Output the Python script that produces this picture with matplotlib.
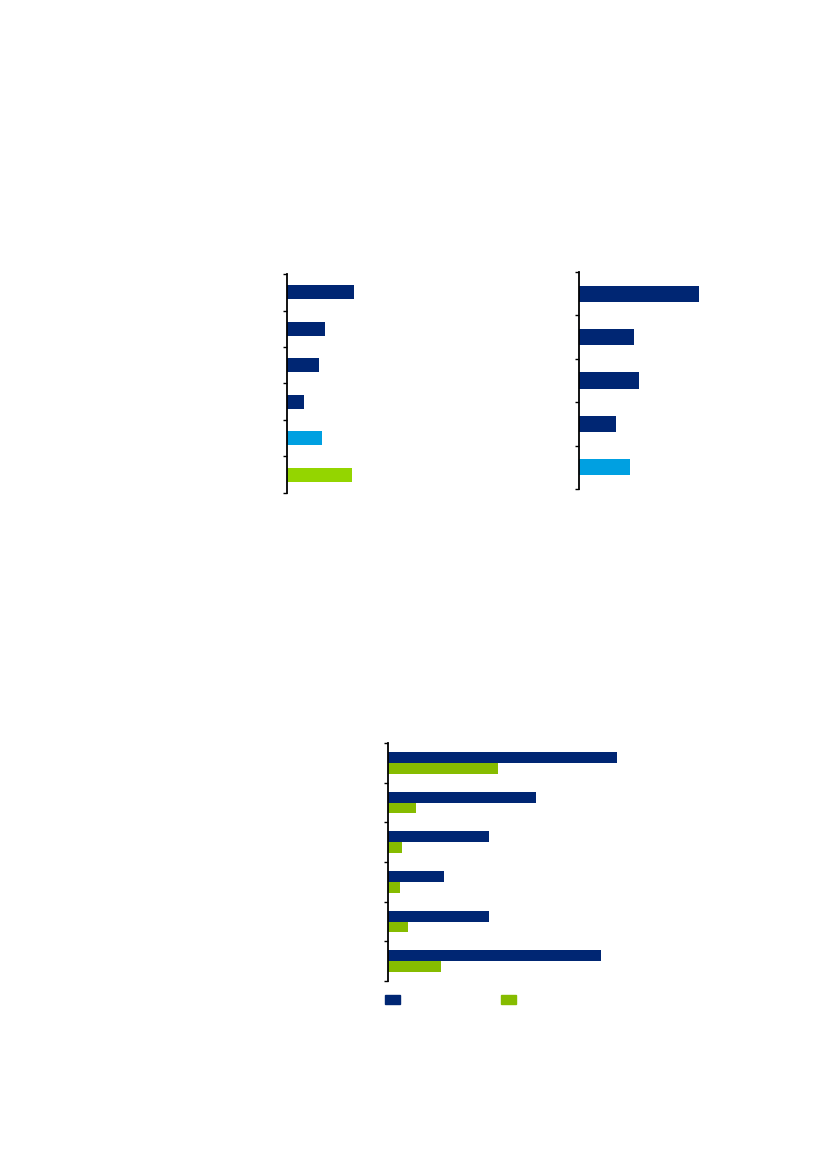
import matplotlib
matplotlib.use("Agg")
import matplotlib.pyplot as plt
from matplotlib.patches import Patch
import numpy as np

# colours
navy = "#002673"
light_blue = "#00A0E1"
green1 = "#94D500"
green3 = "#86BC00"

# chart 1 (top left) - six categories, no text in the reference
cats1 = ["", "", "", "", "", ""]
vals1 = [10.3, 5.8, 4.9, 2.6, 5.4, 10.0]
cols1 = [navy, navy, navy, navy, light_blue, green1]

# chart 2 (top right) - five categories
cats2 = ["", "", "", "", ""]
vals2 = [17.9, 8.2, 9.0, 5.5, 7.6]
cols2 = [navy, navy, navy, navy, light_blue]

# chart 3 (bottom) - six categories, two series
cats3 = ["", "", "", "", "", ""]
series_a = [84.2, 54.4, 37.1, 20.6, 37.1, 78.3]
series_b = [40.4, 10.3, 5.1, 4.4, 7.4, 19.5]
legend_labels = ["", ""]


def style_axis(ax, n):
    for s in ["top", "right", "bottom"]:
        ax.spines[s].set_visible(False)
    ax.spines["left"].set_linewidth(1.3)
    ax.set_ylim(n - 0.5, -0.5)
    ax.set_yticks(np.arange(-0.5, n, 1.0))
    ax.set_yticklabels([""] * (n + 1))
    ax.tick_params(axis="y", direction="out", length=3, width=1)
    ax.set_xticks([])


fig = plt.figure(figsize=(8.27, 11.69), dpi=100)

ax1 = fig.add_axes([0.347, 0.5783, 0.3144, 0.1873])
y1 = np.arange(len(cats1))
ax1.barh(y1, vals1, height=0.39, color=cols1)
ax1.set_xlim(0, 40)
style_axis(ax1, len(cats1))

ax2 = fig.add_axes([0.6998, 0.5817, 0.243, 0.1856])
y2 = np.arange(len(cats2))
ax2.barh(y2, vals2, height=0.37, color=cols2)
ax2.set_xlim(0, 30)
style_axis(ax2, len(cats2))

ax3 = fig.add_axes([0.4695, 0.1608, 0.3289, 0.2036])
y3 = np.arange(len(cats3))
h = 0.27
b1 = ax3.barh(y3 - h / 2, series_a, height=h, color=navy)
b2 = ax3.barh(y3 + h / 2, series_b, height=h, color=green3)
ax3.set_xlim(0, 100)
style_axis(ax3, len(cats3))

handles = [Patch(color=navy), Patch(color=green3)]
ax3.legend(handles, legend_labels, ncol=2, frameon=False, fontsize=10,
           handlelength=1.08, handleheight=0.72, handletextpad=0.8,
           columnspacing=6.5, borderaxespad=0, borderpad=0,
           loc="upper left", bbox_to_anchor=(-0.012, -0.052))

fig.savefig("out.png", dpi=100)
